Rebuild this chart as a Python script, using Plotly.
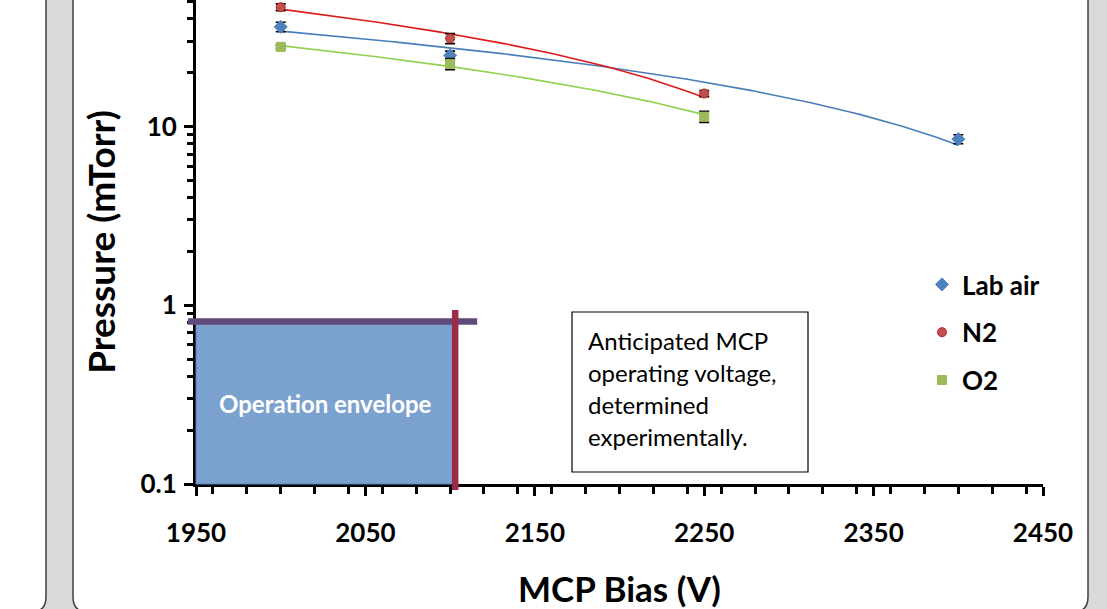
import numpy as np
import plotly.graph_objects as go

# ---------------- data ----------------
bias_lab = [2000, 2100, 2400]
p_lab = [36.1, 25.0, 8.5]
err_lab = [2.2, 1.4, 0.5]

bias_n2 = [2000, 2100, 2250]
p_n2 = [46.5, 31.1, 15.3]
err_n2 = [2.0, 2.0, 0.6]

bias_o2 = [2000, 2100, 2250]
p_o2 = [27.9, 22.4, 11.35]
err_o2 = [0.6, 1.6, 0.8]

series_names = ["Lab air", "N2", "O2"]

x_ticks = [1950, 2050, 2150, 2250, 2350, 2450]
y_tickvals = [0.1, 1, 10]
y_ticktext = ["0.1", "1", "10"]

envelope_bias_max = 2103      # anticipated MCP operating voltage (V)
envelope_pressure_max = 0.81  # pressure limit (mTorr)
envelope_label = "Operation envelope"
note_lines = ["Anticipated MCP", "operating voltage,", "determined", "experimentally."]

# ---------------- geometry ----------------
W, H = 1107, 609
L, R, T, B = 196, 64, 0, 125
PW, PH = W - L - R, H - T - B
XR = [x_ticks[0], x_ticks[-1]]
YR = [-1, -1 + PH / 178.75]

def xp(v):
    return (v - XR[0]) / (XR[1] - XR[0])

def yp(v):
    return (np.log10(v) - YR[0]) / (YR[1] - YR[0])

def pxx(px):
    return (px - L) / PW

def pxy(py):
    return (H - B - py) / PH

FONT = "Lato"
blue, red, green = "#4F81BD", "#C0504D", "#9BBB59"
tblue, tred, tgreen = "#4A7EBB", "#DD1A1A", "#92D050"

fig = go.Figure()

def add_series(x, y, e, name, color, lcolor, symbol, size, border):
    coef = np.polyfit(x, y, 1)
    xs = np.linspace(min(x), max(x), 200)
    fig.add_trace(go.Scatter(x=xs, y=np.polyval(coef, xs), mode="lines",
                             line=dict(color=lcolor, width=1.6),
                             showlegend=False, hoverinfo="skip"))
    fig.add_trace(go.Scatter(x=x, y=y, mode="markers", name=name, legendgroup=name,
                             marker=dict(symbol=symbol, size=size, color=color,
                                         line=dict(color=border, width=1)),
                             error_y=dict(type="data", array=e, color="black",
                                          thickness=1.6, width=5)))

add_series(bias_lab, p_lab, err_lab, series_names[0], blue, tblue, "diamond", 10, blue)
add_series(bias_n2, p_n2, err_n2, series_names[1], red, tred, "circle", 9, "#B22222")
add_series(bias_o2, p_o2, err_o2, series_names[2], green, tgreen, "square", 9, green)

shapes = []
# slide background boxes
r = 15
def P(px, py):
    return f"{pxx(px):.5f},{pxy(py):.5f}"
left_box = (f"M {P(-20,-20)} L {P(46,-20)} L {P(46,612-r)} "
            f"Q {P(46,612)} {P(46-r,612)} L {P(-20,612)} Z")
chart_box = (f"M {P(73,-20)} L {P(1088,-20)} L {P(1088,612-r)} "
             f"Q {P(1088,612)} {P(1088-r,612)} L {P(73+r,612)} "
             f"Q {P(73,612)} {P(73,612-r)} Z")
for pth in (left_box, chart_box):
    shapes.append(dict(type="path", path=pth, xref="paper", yref="paper",
                       fillcolor="white", line=dict(color="#404040", width=1.5),
                       layer="below"))

# operation envelope
shapes.append(dict(type="rect", xref="paper", yref="paper",
                   x0=xp(XR[0]), x1=xp(envelope_bias_max),
                   y0=yp(10 ** YR[0]), y1=yp(envelope_pressure_max),
                   fillcolor="#7BA1CE", line=dict(color="#5A84B8", width=1),
                   layer="above"))
shapes.append(dict(type="line", xref="paper", yref="paper",
                   x0=xp(XR[0]) - 8 / PW, x1=xp(envelope_bias_max) + 22 / PW,
                   y0=yp(envelope_pressure_max), y1=yp(envelope_pressure_max),
                   line=dict(color="#604A7B", width=6.5), layer="above"))
shapes.append(dict(type="line", xref="paper", yref="paper",
                   x0=xp(envelope_bias_max), x1=xp(envelope_bias_max),
                   y0=yp(10 ** YR[0]) - 6 / PH, y1=yp(0.94),
                   line=dict(color="#9B2B46", width=6.5), layer="above"))
# note box
shapes.append(dict(type="rect", xref="paper", yref="paper",
                   x0=pxx(572), x1=pxx(808), y0=pxy(472), y1=pxy(312),
                   fillcolor="white", line=dict(color="black", width=1.2),
                   layer="above"))

annotations = [dict(text=envelope_label, xref="paper", yref="paper",
                    x=pxx(325), y=pxy(403), xanchor="center", yanchor="middle",
                    showarrow=False,
                    font=dict(family=FONT, size=24, color="white", weight="bold"))]
for i, line in enumerate(note_lines):
    annotations.append(dict(text=line, xref="paper", yref="paper",
                            x=pxx(586), y=pxy(340 + i * 32), xanchor="left",
                            yanchor="middle", showarrow=False,
                            font=dict(family=FONT, size=24, color="black")))

fig.update_layout(
    width=W, height=H, margin=dict(l=L, r=R, t=T, b=B),
    paper_bgcolor="#D9D9D9", plot_bgcolor="rgba(0,0,0,0)",
    font=dict(family=FONT, color="black"),
    shapes=shapes, annotations=annotations,
    legend=dict(x=pxx(922), y=pxy(261), xanchor="left", yanchor="top",
                bgcolor="rgba(0,0,0,0)", tracegroupgap=11,
                font=dict(family=FONT, size=26, color="black", weight="bold")),
    xaxis=dict(range=XR, tick0=x_ticks[0], dtick=100, showline=True, linecolor="black",
               linewidth=3, ticks="outside", ticklen=9, tickwidth=2.5,
               tickcolor="black", showgrid=False, zeroline=False,
               ticklabelstandoff=15,
               minor=dict(dtick=20, ticks="outside", ticklen=7, tickwidth=2.5,
                          tickcolor="black", showgrid=False),
               tickfont=dict(family=FONT, size=26, weight="bold"),
               title=dict(text="MCP Bias (V)", standoff=33,
                          font=dict(family=FONT, size=35, weight="bold"))),
    yaxis=dict(type="log", range=YR, tickmode="array", tickvals=y_tickvals,
               ticktext=y_ticktext, showline=True, linecolor="black", linewidth=3,
               ticks="outside", ticklen=9, tickwidth=2.5, tickcolor="black",
               showgrid=False, zeroline=False, ticklabelstandoff=2,
               minor=dict(tickmode="array",
                          tickvals=[k * 10.0 ** e for e in (-1, 0, 1) for k in range(2, 10)],
                          ticks="outside", ticklen=6, tickwidth=2.5,
                          tickcolor="black", showgrid=False),
               tickfont=dict(family=FONT, size=26, weight="bold"),
               title=dict(text="Pressure (mTorr)", standoff=14,
                          font=dict(family=FONT, size=37, weight="bold"))),
)

fig.write_html("out.html")
